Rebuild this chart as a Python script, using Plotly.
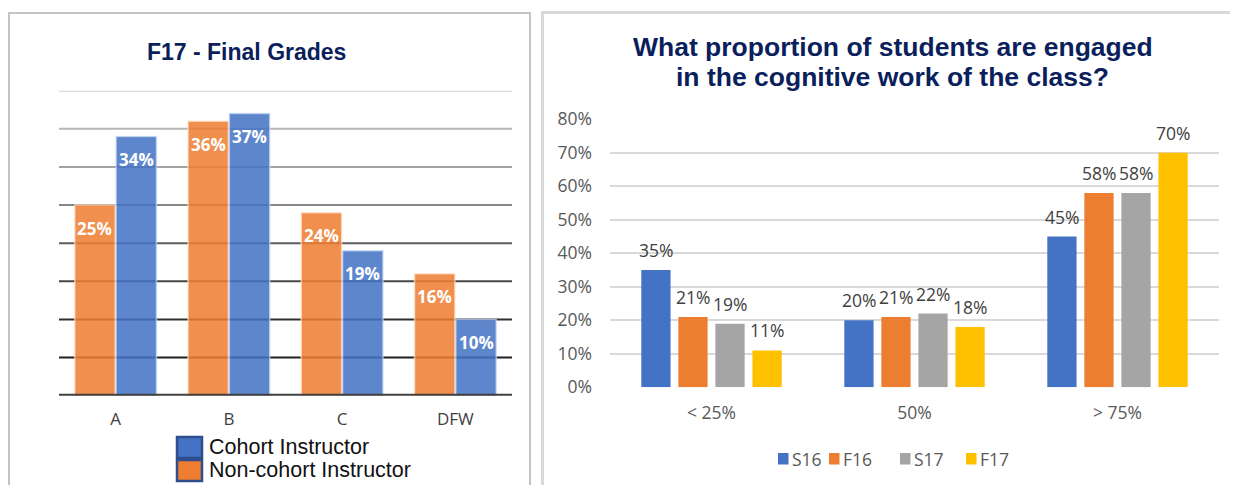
import plotly.graph_objects as go

W, H = 1238, 485
PAGE_OFFSET = 8  # browser's default body margin around the plot

# ---------------- Left chart data ----------------
grade_categories = ["A", "B", "C", "DFW"]
grade_series_names = ["Non-cohort Instructor", "Cohort Instructor"]
noncohort_values = [25, 36, 24, 16]
cohort_values = [34, 37, 19, 10]
grade_gridlines = [5, 10, 15, 20, 25, 30, 35, 40]
grade_title = "F17 - Final Grades"

# ---------------- Right chart data ----------------
engage_categories = ["< 25%", "50%", "> 75%"]
term_names = ["S16", "F16", "S17", "F17"]
s16_values = [35, 20, 45]
f16_values = [21, 21, 58]
s17_values = [19, 22, 58]
f17_values = [11, 18, 70]
engage_ticks = [0, 10, 20, 30, 40, 50, 60, 70, 80]
engage_title_lines = ["What proportion of students are engaged",
                      "in the cognitive work of the class?"]

# ---------------- styles ----------------
grade_colors = ["rgba(237,125,49,0.86)", "rgba(68,114,196,0.86)"]
grade_legend_colors = ["#ED7D31", "#4472C4"]
grade_edge = ["rgba(255,225,200,0.7)", "rgba(200,215,245,0.7)"]
grid_colors = ["#222222", "#303030", "#474747", "#5e5e5e",
               "#878787", "#a3a3a3", "#b6b6b6", "#d0d0d0"]
term_colors = ["#4472C4", "#ED7D31", "#A5A5A5", "#FFC000"]

TEXT_FONT = "Open Sans, Noto Sans, sans-serif"
ARIAL = "Arial, Liberation Sans, sans-serif"
NAVY = "#0B1F5C"


def px_x(px):
    return (px - PAGE_OFFSET) / W


def px_y(py):
    return 1 - (py - PAGE_OFFSET) / H


fig = go.Figure()

# Left chart bars
GRADE_BAR_W = 0.356
grade_series = [noncohort_values, cohort_values]
for k, (name, vals) in enumerate(zip(grade_series_names, grade_series)):
    fig.add_trace(go.Bar(
        x=grade_categories, y=vals, name=name,
        marker=dict(color=grade_colors[k],
                    line=dict(color=grade_edge[k], width=1.5)),
        width=GRADE_BAR_W,
        xaxis="x", yaxis="y", showlegend=False, hoverinfo="skip",
    ))

# Right chart bars
term_series = [s16_values, f16_values, s17_values, f17_values]
for k, (name, vals) in enumerate(zip(term_names, term_series)):
    fig.add_trace(go.Bar(
        x=engage_categories, y=vals, name=name,
        marker=dict(color=term_colors[k], line=dict(width=0)),
        xaxis="x2", yaxis="y2", showlegend=False, hoverinfo="skip",
    ))

BARGAP = 0.27
BARGROUPGAP = 0.21

annotations = []
shapes = []

# Left labels (inside, near top)
grade_slot = (1 - BARGAP) / 2
for k, vals in enumerate(grade_series):
    off = (k - 0.5) * grade_slot
    for i, v in enumerate(vals):
        annotations.append(dict(
            x=i + off, y=v, xref="x", yref="y", text=f"{v}%",
            showarrow=False, yshift=-23, yanchor="middle",
            font=dict(family=TEXT_FONT, size=17, color="white", weight="bold"),
        ))

# Right labels (above bars)
term_slot = (1 - BARGAP) / 4
for k, vals in enumerate(term_series):
    off = (k - 1.5) * term_slot
    for i, v in enumerate(vals):
        annotations.append(dict(
            x=i + off, y=v, xref="x2", yref="y2", text=f"{v}%",
            showarrow=False, yshift=20, yanchor="middle",
            font=dict(family=TEXT_FONT, size=17.5, color="#404040"),
        ))

# Left gridlines with graded colours
for g, c in zip(grade_gridlines, grid_colors):
    shapes.append(dict(type="line", xref="x domain", yref="y",
                       x0=0, x1=1, y0=g, y1=g, layer="below",
                       line=dict(color=c, width=2)))
shapes.append(dict(type="line", xref="x domain", yref="y",
                   x0=0, x1=1, y0=0, y1=0, layer="above",
                   line=dict(color="#404040", width=4)))

# Panel borders
shapes.append(dict(type="rect", xref="paper", yref="paper",
                   x0=px_x(9), x1=px_x(530), y0=px_y(520), y1=px_y(13),
                   line=dict(color="#c4c4c4", width=2), layer="below"))
shapes.append(dict(type="rect", xref="paper", yref="paper",
                   x0=px_x(542.5), x1=px_x(1260), y0=px_y(520), y1=px_y(12.5),
                   line=dict(color="#d9d9d9", width=3), layer="below"))

# Titles
annotations.append(dict(x=px_x(246), y=px_y(52), xref="paper", yref="paper",
                        text=f"<b>{grade_title}</b>", showarrow=False,
                        xanchor="center", yanchor="middle",
                        font=dict(family=ARIAL, size=23, color=NAVY)))
for line, ypx in zip(engage_title_lines, [47, 77]):
    annotations.append(dict(x=px_x(892.5), y=px_y(ypx), xref="paper", yref="paper",
                            text=f"<b>{line}</b>", showarrow=False,
                            xanchor="center", yanchor="middle",
                            font=dict(family=ARIAL, size=26.5, color=NAVY)))

# Left legend (Cohort first, then Non-cohort)
left_legend_order = [1, 0]
legend_tops = [437, 460]
for row, k in enumerate(left_legend_order):
    top = legend_tops[row]
    shapes.append(dict(type="rect", xref="paper", yref="paper",
                       x0=px_x(177), x1=px_x(202), y0=px_y(top + 21), y1=px_y(top),
                       fillcolor=grade_legend_colors[k],
                       line=dict(color="#2F4E8C", width=2.5)))
    annotations.append(dict(x=px_x(207), y=px_y(top + 10), xref="paper", yref="paper",
                            text=grade_series_names[k],
                            showarrow=False, xanchor="left", yanchor="middle",
                            font=dict(family=ARIAL, size=21.5, color="#111111")))

# Right legend
legend_sq_x = [778, 829, 900, 966]
for k, name in enumerate(term_names):
    x0 = legend_sq_x[k]
    shapes.append(dict(type="rect", xref="paper", yref="paper",
                       x0=px_x(x0), x1=px_x(x0 + 10.5), y0=px_y(464.5), y1=px_y(453),
                       fillcolor=term_colors[k], line=dict(width=0)))
    annotations.append(dict(x=px_x(x0 + 12), y=px_y(458.5), xref="paper", yref="paper",
                            text=name, showarrow=False, xanchor="left", yanchor="middle",
                            font=dict(family=TEXT_FONT, size=17.5, color="#595959")))

fig.update_layout(
    template="none",
    width=W, height=H,
    margin=dict(l=0, r=0, t=0, b=0, autoexpand=False),
    paper_bgcolor="white", plot_bgcolor="rgba(0,0,0,0)",
    barmode="group", bargap=BARGAP, bargroupgap=BARGROUPGAP,
    showlegend=False,
    xaxis=dict(domain=[px_x(59), px_x(512)], anchor="y", type="category",
               categoryorder="array", categoryarray=grade_categories,
               range=[-0.5, len(grade_categories) - 0.5],
               showgrid=False, showline=False, zeroline=False, ticks="",
               tickfont=dict(family=TEXT_FONT, size=17, color="#404040"),
               ticklabelstandoff=11, automargin=False, fixedrange=True),
    yaxis=dict(domain=[px_y(395.7), px_y(90.7)], anchor="x", range=[0, 40],
               showgrid=False, showline=False, zeroline=False,
               showticklabels=False, ticks="", automargin=False, fixedrange=True),
    xaxis2=dict(domain=[px_x(610), px_x(1219)], anchor="y2", type="category",
                categoryorder="array", categoryarray=engage_categories,
                range=[-0.5, len(engage_categories) - 0.5],
                showgrid=False, showline=False, zeroline=False, ticks="",
                tickfont=dict(family=TEXT_FONT, size=17.5, color="#595959"),
                ticklabelstandoff=13, automargin=False, fixedrange=True),
    yaxis2=dict(domain=[px_y(387.3), px_y(119.3)], anchor="x2", range=[0, 80],
                tickmode="array", tickvals=engage_ticks,
                ticktext=[f"{t}%" for t in engage_ticks],
                showgrid=True, gridcolor="#d9d9d9", gridwidth=2,
                showline=False, zeroline=False, ticks="",
                tickfont=dict(family=TEXT_FONT, size=17.5, color="#595959"),
                ticklabelstandoff=17, automargin=False, fixedrange=True),
    annotations=annotations,
    shapes=shapes,
)

fig.write_html("out.html")
